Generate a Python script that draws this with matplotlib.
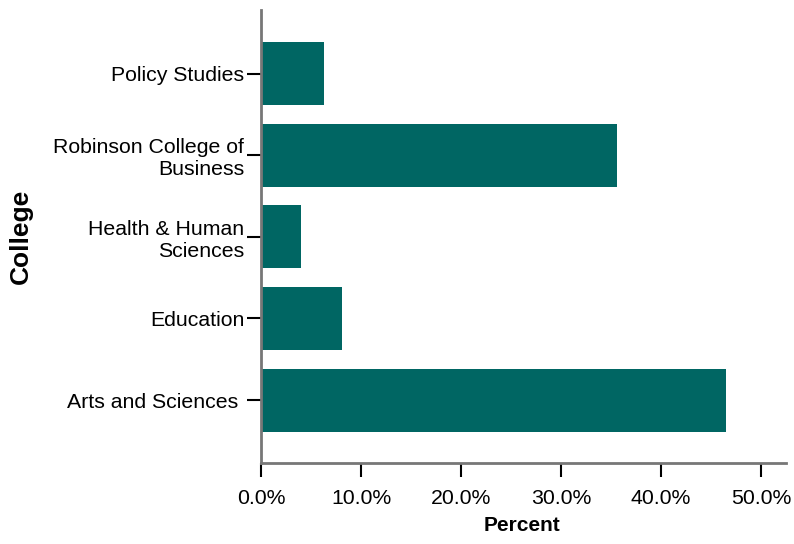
import matplotlib.pyplot as plt
from matplotlib.ticker import FuncFormatter

plt.rcParams['font.family'] = ['Liberation Sans', 'DejaVu Sans']

colleges = ['Arts and Sciences ', 'Education', 'Health & Human\nSciences',
            'Robinson College of\nBusiness', 'Policy Studies']
percent = [46.5, 8.1, 4.0, 35.6, 6.3]

fig = plt.figure(figsize=(7.94, 5.44), dpi=100)
ax = fig.add_axes([0.3287, 0.149, 0.99 - 0.3287, 0.9816 - 0.149])

ax.barh(range(len(colleges)), percent, height=0.77, color='#006663')

ax.set_xlim(0, 52.5)
ax.set_ylim(-0.77, 4.78)
ax.set_xticks([0, 10, 20, 30, 40, 50])
ax.xaxis.set_major_formatter(FuncFormatter(lambda v, p: f'{v:.1f}%'))
ax.set_yticks(range(len(colleges)))
ax.set_yticklabels(colleges, multialignment='right')

for s in ['top', 'right']:
    ax.spines[s].set_visible(False)
for s in ['left', 'bottom']:
    ax.spines[s].set_color('#777777')
    ax.spines[s].set_linewidth(2)

ax.tick_params(axis='both', length=10, width=1.5, color='black',
               labelsize=15.3, labelcolor='black')
ax.tick_params(axis='y', pad=2)
ax.tick_params(axis='x', pad=9)

ax.set_xlabel('Percent', fontsize=15, fontweight='bold')
ax.set_ylabel('College', fontsize=19, fontweight='bold')
ax.xaxis.set_label_coords(0.497, -0.118)
ax.yaxis.set_label_coords(-0.434, 0.5)

fig.savefig('out.png', dpi=100)
